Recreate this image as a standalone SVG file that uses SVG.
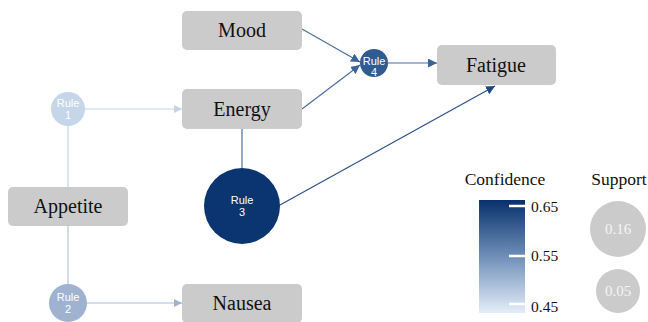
<svg xmlns="http://www.w3.org/2000/svg" width="648" height="322" viewBox="0 0 648 322">
<defs>
<style>
.box{fill:#cccbcb;}
.lbl{font-family:'Liberation Serif','Times New Roman','DejaVu Serif',serif;font-size:20px;fill:#111;text-anchor:middle;}
.rl{font-family:'Liberation Sans',Arial,sans-serif;font-size:11px;fill:#fff;text-anchor:middle;}
.leg{font-family:'Liberation Serif','Times New Roman','DejaVu Serif',serif;font-size:17.5px;fill:#111;}
.num{font-family:'Liberation Serif','Times New Roman','DejaVu Serif',serif;font-size:15.5px;fill:#111;}
.sup{font-family:'Liberation Serif','Times New Roman','DejaVu Serif',serif;font-size:15px;fill:#f4f4f4;text-anchor:middle;}
.e{fill:none;stroke-width:1.2;}
</style>
<marker id="aL" viewBox="0 0 10 10" refX="10" refY="5" markerWidth="8" markerHeight="8" markerUnits="userSpaceOnUse" orient="auto"><path d="M0,0L10,5L0,10z" fill="#c5d5e8"/></marker>
<marker id="aM" viewBox="0 0 10 10" refX="10" refY="5" markerWidth="9" markerHeight="9" markerUnits="userSpaceOnUse" orient="auto"><path d="M0,0L10,5L0,10z" fill="#3d6498"/></marker>
<marker id="aD" viewBox="0 0 10 10" refX="10" refY="5" markerWidth="9" markerHeight="9" markerUnits="userSpaceOnUse" orient="auto"><path d="M0,0L10,5L0,10z" fill="#1f4680"/></marker>
<marker id="a2" viewBox="0 0 10 10" refX="10" refY="5" markerWidth="8" markerHeight="8" markerUnits="userSpaceOnUse" orient="auto"><path d="M0,0L10,5L0,10z" fill="#9fb3d1"/></marker>
<linearGradient id="conf" x1="0" y1="0" x2="0" y2="1">
<stop offset="0" stop-color="#08306b"/>
<stop offset="0.5" stop-color="#6f8fb8"/>
<stop offset="1" stop-color="#e4eef8"/>
</linearGradient>
</defs>
<rect width="648" height="322" fill="#fff"/>
<g id="connectors">
<line class="e" x1="85" y1="109" x2="182" y2="109" stroke="#c5d5e8" marker-end="url(#aL)"/>
<line class="e" x1="68" y1="126" x2="68" y2="187" stroke="#c5d5e8"/>
<line class="e" x1="68" y1="226" x2="68" y2="284" stroke="#b3c5de"/>
<line class="e" x1="87" y1="303" x2="182" y2="303" stroke="#a9bcd8" marker-end="url(#a2)"/>
<line class="e" x1="242" y1="129" x2="242" y2="168" stroke="#4a6fa0"/>
<line class="e" x1="280" y1="205" x2="495" y2="86" stroke="#2c5288" marker-end="url(#aD)"/>
<line class="e" x1="302" y1="29" x2="360" y2="62" stroke="#4a6fa0" marker-end="url(#aM)"/>
<line class="e" x1="302" y1="109" x2="360" y2="65" stroke="#4a6fa0" marker-end="url(#aM)"/>
<line class="e" x1="388" y1="63" x2="437" y2="63" stroke="#4a6fa0" marker-end="url(#aM)"/>
</g>
<g id="mood"><rect class="box" x="182" y="11" width="120" height="39" rx="5"/><text class="lbl" x="242" y="37">Mood</text></g>
<g id="energy"><rect class="box" x="182" y="89" width="120" height="40" rx="5"/><text class="lbl" x="242" y="116">Energy</text></g>
<g id="fatigue"><rect class="box" x="437" y="45" width="119" height="40" rx="5"/><text class="lbl" x="496" y="72">Fatigue</text></g>
<g id="appetite"><rect class="box" x="8" y="187" width="120" height="39" rx="5"/><text class="lbl" x="68" y="213">Appetite</text></g>
<g id="nausea"><rect class="box" x="182" y="284" width="120" height="39" rx="5"/><text class="lbl" x="242" y="310">Nausea</text></g>
<g id="rule1"><circle cx="68" cy="109" r="17" fill="#c6d6e9"/><text class="rl" x="68" y="107">Rule</text><text class="rl" x="68" y="119">1</text></g>
<g id="rule2"><circle cx="68" cy="303" r="19" fill="#9fb3d1"/><text class="rl" x="68" y="301">Rule</text><text class="rl" x="68" y="313">2</text></g>
<g id="rule3"><circle cx="242" cy="206" r="38" fill="#0a3570"/><text class="rl" x="242" y="204">Rule</text><text class="rl" x="242" y="216">3</text></g>
<g id="rule4"><circle cx="374" cy="63" r="14" fill="#2f5b91"/><text class="rl" x="374" y="65">Rule</text><text class="rl" x="374" y="76">4</text></g>
<g id="legend-confidence">
<text class="leg" x="505" y="185" text-anchor="middle">Confidence</text>
<rect x="479" y="200" width="46" height="113" fill="url(#conf)"/>
<g stroke="#fff" stroke-width="2.5">
<line x1="509" y1="206" x2="525" y2="206"/>
<line x1="509" y1="256" x2="525" y2="256"/>
<line x1="509" y1="304" x2="525" y2="304"/>
</g>
<text class="num" x="531" y="212">0.65</text>
<text class="num" x="531" y="261">0.55</text>
<text class="num" x="531" y="312">0.45</text>
</g>
<g id="legend-support">
<text class="leg" x="619" y="185" text-anchor="middle">Support</text>
<circle cx="618" cy="229" r="28" fill="#cccbcb"/>
<text class="sup" x="618" y="234">0.16</text>
<circle cx="618" cy="291" r="22" fill="#cccbcb"/>
<text class="sup" x="618" y="296">0.05</text>
</g>
</svg>
